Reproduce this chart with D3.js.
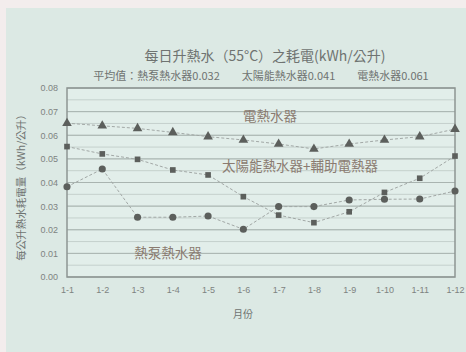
<!DOCTYPE html>
<html><head><meta charset="utf-8">
<script src="https://cdn.jsdelivr.net/npm/d3@7"></script>
<style>
html,body{margin:0;padding:0;background:#f3eded;}
svg{display:block;font-family:"Noto Sans CJK TC","Noto Sans",sans-serif;}
</style></head><body>
<svg id="c" width="466" height="352"></svg>
<script>
const months = ["1-1","1-2","1-3","1-4","1-5","1-6","1-7","1-8","1-9","1-10","1-11","1-12"];
const electric = [0.0651,0.0640,0.0629,0.0612,0.0594,0.0580,0.0563,0.0542,0.0563,0.0580,0.0594,0.0626];
const solar    = [0.0552,0.0521,0.0498,0.0453,0.0432,0.0340,0.0262,0.0230,0.0276,0.0358,0.0418,0.0512];
const heatpump = [0.0382,0.0457,0.0253,0.0253,0.0258,0.0202,0.0298,0.0298,0.0326,0.0329,0.0330,0.0364];
const yTicks = [0,0.01,0.02,0.03,0.04,0.05,0.06,0.07,0.08];
const title = "每日升熱水（55°C）之耗電(kWh/公升)";
const subtitle = "平均值：熱泵熱水器0.032　　太陽能熱水器0.041　　電熱水器0.061";
const yTitle = "每公升熱水耗電量（kWh/公升）";
const xTitle = "月份";
const seriesNames = ["電熱水器","太陽能熱水器+輔助電熱器","熱泵熱水器"];

const svg = d3.select("#c");
svg.append("rect").attr("x",6).attr("y",8).attr("width",460).attr("height",344).attr("fill","#dce9e4");

const L=67,R=455,T=88,B=277;
const x = d3.scalePoint().domain(months).range([L,R]).padding(0);
const y = d3.scaleLinear().domain([0,0.08]).range([B,T]);

svg.append("rect").attr("x",L).attr("y",T).attr("width",R-L).attr("height",B-T).attr("fill","#e2eeea");

const minor = d3.range(0,0.0801,0.005);
svg.append("g").selectAll("line").data(minor).join("line")
  .attr("x1",L).attr("x2",R).attr("y1",d=>y(d)).attr("y2",d=>y(d))
  .attr("stroke","#c4d0cc").attr("stroke-width",1);
svg.append("g").selectAll("line").data(yTicks).join("line")
  .attr("x1",L).attr("x2",R).attr("y1",d=>y(d)).attr("y2",d=>y(d))
  .attr("stroke","#a9b4b0").attr("stroke-width",1);

const yAxis = svg.append("g").attr("transform",`translate(${L},0)`)
  .call(d3.axisLeft(y).tickValues(yTicks).tickFormat(d3.format(".2f")).tickSize(0).tickPadding(9));
yAxis.select(".domain").remove();
yAxis.selectAll("text").attr("fill","#7e8381").attr("font-size",9);
const xAxis = svg.append("g").attr("transform",`translate(0,${B})`)
  .call(d3.axisBottom(x).tickSize(0).tickPadding(10));
xAxis.select(".domain").remove();
xAxis.selectAll("text").attr("fill","#7e8381").attr("font-size",9);

svg.append("rect").attr("x",L).attr("y",T).attr("width",R-L).attr("height",B-T)
  .attr("fill","none").attr("stroke","#8d9592").attr("stroke-width",1.5);

const line = d3.line().x((d,i)=>x(months[i])).y(d=>y(d));
const data = [
  {v:electric, sym:d3.symbolTriangle, size:40},
  {v:solar, sym:d3.symbolSquare, size:32},
  {v:heatpump, sym:d3.symbolCircle, size:40}
];
data.forEach(s=>{
  svg.append("path").datum(s.v).attr("d",line).attr("fill","none")
    .attr("stroke","#a2a8a6").attr("stroke-width",1).attr("stroke-dasharray","3,2");
});
data.forEach(s=>{
  svg.append("g").selectAll("path").data(s.v).join("path")
    .attr("transform",(d,i)=>`translate(${x(months[i])},${y(d)})`)
    .attr("d",d3.symbol().type(s.sym).size(s.size))
    .attr("fill","#5c5f5c");
});

const lab = [
  {t:seriesNames[0], cx:270, v:0.0685},
  {t:seriesNames[1], cx:300, v:0.0476},
  {t:seriesNames[2], cx:168, v:0.0105}
];
svg.append("g").selectAll("text").data(lab).join("text")
  .attr("x",d=>d.cx).attr("y",d=>y(d.v)).attr("text-anchor","middle")
  .attr("dominant-baseline","central").attr("font-size",13.5).attr("fill","#8a7b70").text(d=>d.t);

svg.append("text").attr("x",265).attr("y",55).attr("text-anchor","middle").attr("dominant-baseline","central")
  .attr("font-size",14).attr("fill","#6f7371").text(title);
svg.append("text").attr("x",261).attr("y",75).attr("text-anchor","middle").attr("dominant-baseline","central")
  .attr("font-size",11).attr("fill","#6f7371").text(subtitle);
svg.append("text").attr("transform","translate(20,185) rotate(-90)").attr("text-anchor","middle")
  .attr("dominant-baseline","central").attr("font-size",10.5).attr("fill","#6f7371").text(yTitle);
svg.append("text").attr("x",243).attr("y",313).attr("text-anchor","middle").attr("dominant-baseline","central")
  .attr("font-size",10).attr("fill","#6f7371").text(xTitle);
</script></body></html>
